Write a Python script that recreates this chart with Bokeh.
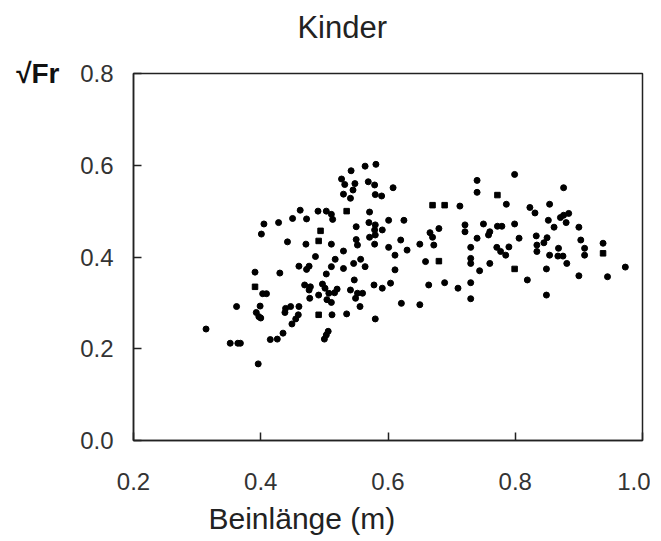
from bokeh.plotting import figure
from bokeh.models import FixedTicker, Range1d, LinearAxis, Title
from bokeh.embed import file_html
from bokeh.resources import INLINE

# ---- data: leg length (m) vs sqrt(Froude number), children ----
# round-ish markers
x_left = [0.405, 0.428, 0.401, 0.391, 0.430, 0.409, 0.403, 0.362, 0.399, 0.393,
          0.397, 0.400, 0.314, 0.352, 0.364, 0.368, 0.415, 0.396, 0.426]
y_left = [0.472, 0.475, 0.450, 0.367, 0.365, 0.320, 0.320, 0.292, 0.293, 0.279,
          0.270, 0.267, 0.243, 0.212, 0.212, 0.212, 0.220, 0.167, 0.221]

x_mid = [0.542, 0.564, 0.581, 0.527, 0.532, 0.548, 0.545, 0.530, 0.541, 0.569,
         0.579, 0.608, 0.580, 0.590, 0.462, 0.490, 0.503, 0.571, 0.511, 0.513,
         0.450, 0.472, 0.550, 0.570, 0.580, 0.601, 0.625, 0.579, 0.591, 0.571,
         0.580, 0.550, 0.552, 0.442, 0.471, 0.511, 0.579, 0.601, 0.620, 0.611,
         0.530, 0.486, 0.517, 0.557, 0.546, 0.564, 0.460, 0.476, 0.472, 0.511,
         0.530, 0.611, 0.503, 0.547, 0.469, 0.478, 0.476, 0.497, 0.501, 0.520,
         0.516, 0.491, 0.507, 0.477, 0.504, 0.511, 0.541, 0.552, 0.560, 0.549,
         0.556, 0.578, 0.591, 0.604, 0.621, 0.439, 0.447, 0.460, 0.438, 0.459,
         0.455, 0.449, 0.512, 0.535, 0.580, 0.506, 0.503, 0.500, 0.435]
y_mid = [0.588, 0.598, 0.602, 0.570, 0.558, 0.560, 0.546, 0.537, 0.528, 0.564,
         0.557, 0.551, 0.536, 0.533, 0.502, 0.500, 0.500, 0.498, 0.493, 0.482,
         0.484, 0.483, 0.466, 0.475, 0.470, 0.480, 0.480, 0.459, 0.459, 0.443,
         0.448, 0.438, 0.426, 0.433, 0.428, 0.428, 0.428, 0.421, 0.437, 0.404,
         0.413, 0.401, 0.395, 0.395, 0.386, 0.379, 0.380, 0.380, 0.373, 0.379,
         0.375, 0.372, 0.363, 0.350, 0.339, 0.335, 0.328, 0.341, 0.332, 0.330,
         0.322, 0.317, 0.321, 0.310, 0.307, 0.301, 0.328, 0.321, 0.321, 0.310,
         0.292, 0.339, 0.332, 0.343, 0.299, 0.288, 0.292, 0.292, 0.279, 0.274,
         0.265, 0.254, 0.274, 0.276, 0.265, 0.238, 0.230, 0.221, 0.234]

x_right = [0.740, 0.799, 0.740, 0.786, 0.823, 0.713, 0.721, 0.721, 0.750, 0.772,
           0.779, 0.799, 0.680, 0.666, 0.670, 0.760, 0.758, 0.740, 0.806, 0.650,
           0.672, 0.630, 0.730, 0.771, 0.777, 0.785, 0.790, 0.659, 0.730, 0.730,
           0.760, 0.744, 0.819, 0.664, 0.689, 0.710, 0.730, 0.730, 0.650,
           0.876, 0.854, 0.831, 0.852, 0.861, 0.876, 0.884, 0.871, 0.880, 0.900,
           0.833, 0.850, 0.845, 0.834, 0.834, 0.868, 0.867, 0.854, 0.875, 0.881,
           0.903, 0.909, 0.909, 0.938, 0.973, 0.849, 0.900, 0.945, 0.849]
y_right = [0.567, 0.580, 0.541, 0.515, 0.508, 0.511, 0.470, 0.455, 0.472, 0.467,
           0.467, 0.472, 0.462, 0.453, 0.443, 0.455, 0.448, 0.441, 0.441, 0.428,
           0.426, 0.415, 0.421, 0.421, 0.412, 0.404, 0.422, 0.390, 0.397, 0.386,
           0.386, 0.370, 0.350, 0.339, 0.344, 0.332, 0.344, 0.309, 0.296,
           0.551, 0.515, 0.496, 0.480, 0.465, 0.491, 0.495, 0.486, 0.475, 0.465,
           0.446, 0.442, 0.431, 0.426, 0.412, 0.419, 0.402, 0.404, 0.402, 0.386,
           0.437, 0.419, 0.404, 0.430, 0.378, 0.374, 0.359, 0.357, 0.317]

# square markers
x_sq = [0.391, 0.535, 0.494, 0.491, 0.491, 0.772, 0.670, 0.689, 0.680, 0.799, 0.938]
y_sq = [0.335, 0.500, 0.457, 0.435, 0.274, 0.535, 0.513, 0.513, 0.391, 0.374, 0.408]

x_ticks = [0.2, 0.4, 0.6, 0.8, 1.0]
y_ticks = [0.0, 0.2, 0.4, 0.6, 0.8]

title_text = "Kinder"
x_label_text = "Beinlänge (m)"
y_label_text = "√Fr"

FONT = "Liberation Sans"
DARK = "#222222"
TITLE_ANCHOR = 0.528   # horizontal centre of the title, in x-axis units

p = figure(width=650, height=541, output_backend="svg", toolbar_location=None,
           title=None,
           x_range=Range1d(0.2, 1.0), y_range=Range1d(0.0, 0.8),
           min_border_left=133, min_border_right=8,
           min_border_top=73, min_border_bottom=100)
p.background_fill_color = "white"
p.border_fill_color = "white"
p.grid.visible = False
p.outline_line_color = DARK
p.outline_line_width = 1.5

for ax in (p.xaxis[0], p.yaxis[0]):
    ax.axis_line_color = DARK
    ax.axis_line_width = 1.5
    ax.major_tick_in = 8
    ax.major_tick_out = 0
    ax.major_tick_line_color = DARK
    ax.major_tick_line_width = 1.5
    ax.minor_tick_line_color = None
    ax.major_label_text_font = FONT
    ax.major_label_text_font_size = "24px"
    ax.major_label_text_color = "#333333"

p.xaxis.ticker = FixedTicker(ticks=x_ticks)
p.yaxis.ticker = FixedTicker(ticks=y_ticks)
p.xaxis.major_label_overrides = {t: f"{t:.1f}" for t in x_ticks}
p.yaxis.major_label_overrides = {t: f"{t:.1f}" for t in y_ticks}
p.xaxis.major_label_standoff = 32
p.yaxis.major_label_standoff = 20


def text_axis(tick, text, size, standoff, bold=False):
    ax = LinearAxis(ticker=FixedTicker(ticks=[tick]),
                    major_label_overrides={tick: text})
    ax.axis_line_color = None
    ax.major_tick_line_color = None
    ax.minor_tick_line_color = None
    ax.major_label_standoff = standoff
    ax.major_label_text_font = FONT
    ax.major_label_text_font_size = size
    ax.major_label_text_font_style = "bold" if bold else "normal"
    ax.major_label_text_color = "#111111" if bold else DARK
    return ax


# quantity on the y axis (sqrt Fr), at the level of the top tick
p.add_layout(text_axis(y_ticks[-1], y_label_text, "28px", 12, bold=True), "left")
# chart title above the frame
p.add_layout(text_axis(TITLE_ANCHOR, title_text, "31px", 23), "above")

for xs, ys in ((x_left, y_left), (x_mid, y_mid), (x_right, y_right)):
    p.scatter(xs, ys, marker="circle", size=6, fill_color="black", line_color="black")
p.scatter(x_sq, y_sq, marker="square", size=5.5, fill_color="black", line_color="black")

p.add_layout(Title(text=x_label_text, align="left", offset=75, standoff=14,
                   text_font=FONT, text_font_size="30px", text_font_style="normal",
                   text_color=DARK), "below")

open("out.html", "w").write(file_html(p, INLINE))
